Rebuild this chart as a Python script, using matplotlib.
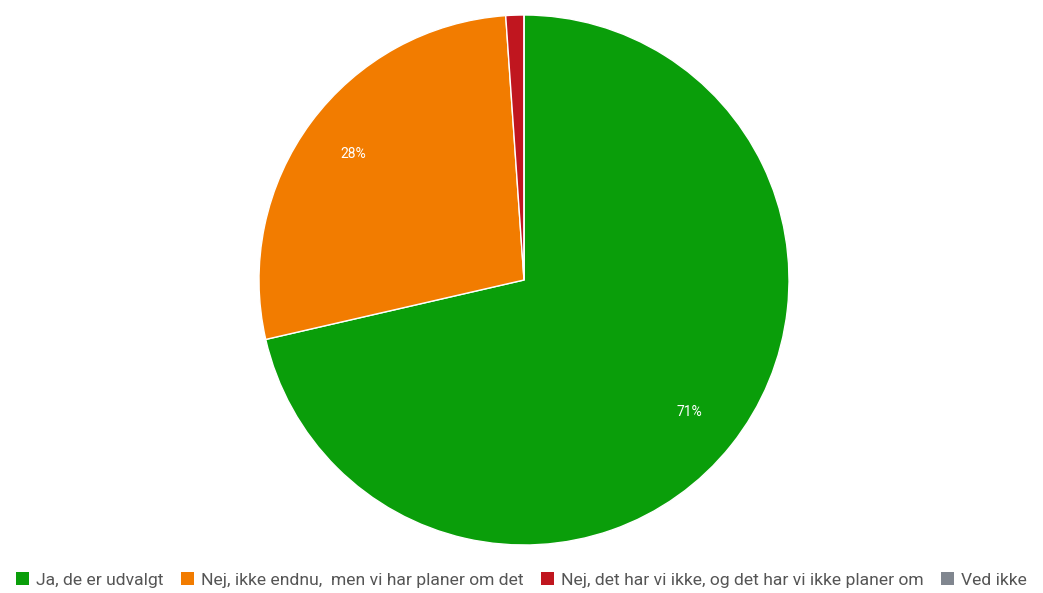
import matplotlib.pyplot as plt
from matplotlib.patches import Patch

plt.rcParams['font.family'] = ['Roboto', 'DejaVu Sans']

labels = ['Ja, de er udvalgt', 'Nej, ikke endnu,  men vi har planer om det',
          'Nej, det har vi ikke, og det har vi ikke planer om', 'Ved ikke']
values = [71.4, 27.5, 1.1, 0.0]
colors = ['#0a9e0a', '#f27c00', '#c0161f', '#80868f']

fig = plt.figure(figsize=(10.43, 5.93), dpi=100)
ax = fig.add_axes([259 / 1043, 48 / 593, 530 / 1043, 530 / 593])

def pct(p):
    return f'{p:.0f}%' if p >= 5 else ''

wedges, texts, autotexts = ax.pie(values, colors=colors, startangle=90, counterclock=False,
                                  autopct=pct, pctdistance=0.8,
                                  wedgeprops=dict(edgecolor='white', linewidth=1))
for t in autotexts:
    t.set_color('white')
    t.set_fontsize(10)
ax.set_xlim(-1, 1)
ax.set_ylim(-1, 1)
ax.set_aspect('equal')

handles = [Patch(facecolor=c, edgecolor='none') for c in colors]
fig.legend(handles, labels, loc='center', bbox_to_anchor=(0.5, 13 / 593),
           ncol=4, frameon=False, fontsize=12.6, labelcolor='#555555',
           handlelength=0.75, handleheight=0.75, handletextpad=0.4, columnspacing=1.0)

fig.savefig('out.png', dpi=100)
